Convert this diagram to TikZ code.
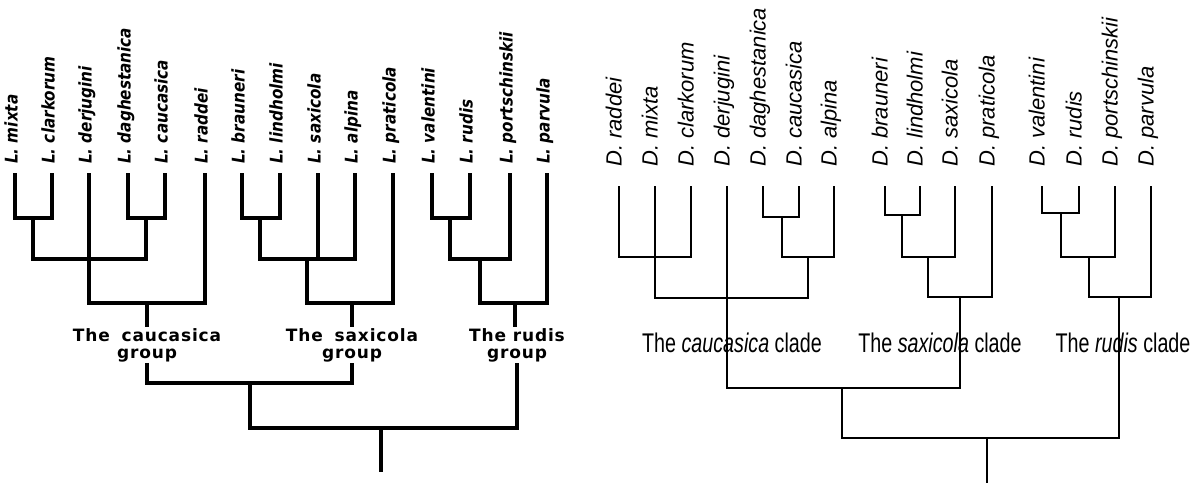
\documentclass[tikz,border=0pt]{standalone}
\usepackage{fontspec}
\setmainfont{Liberation Sans}
\newfontfamily\condfont[FakeStretch=0.73]{Liberation Sans}
\newfontfamily\heavyfont[FakeStretch=0.87]{DejaVu Sans}
\newfontfamily\spacedfont[LetterSpace=5]{DejaVu Sans}

\tikzset{
  treeL/.style={line width=4.5pt, line join=miter},
  treeD/.style={line width=2.6pt, line join=miter},
  tipL/.style={rotate=90, anchor=mid west, inner sep=0pt,
    font=\heavyfont\fontsize{17.5}{18}\selectfont\bfseries\itshape},
  tipD/.style={rotate=90, anchor=mid west, inner sep=0pt,
    font=\fontsize{22}{22}\selectfont\itshape},
  grouplab/.style={align=center, inner sep=1pt,
    font=\spacedfont\fontsize{17}{17}\selectfont\bfseries},
  cladelab/.style={anchor=base, inner sep=0pt,
    font=\condfont\fontsize{27}{27}\selectfont},
}

\begin{document}
\begin{tikzpicture}[x=1pt,y=-1pt]
\useasboundingbox (0,0) rectangle (1194,484);

% Left tree: taxa
\foreach \x/\n/\t in {15/lmix/mixta, 52/lcla/clarkorum, 89/lder/derjugini,
    128/ldag/daghestanica, 165/lcau/caucasica, 205/lrad/raddei,
    242/lbra/brauneri, 280/llin/lindholmi, 318/lsax/saxicola,
    355/lalp/alpina, 393/lpra/praticola, 432/lval/valentini,
    470/lrud/rudis, 510/lpor/portschinskii, 547/lpar/parvula}{
  \coordinate (\n) at (\x,173);
  \node[tipL] (\n-lab) at (\x,164) {L. \t};
}

% Left tree: joins
\coordinate (la1) at (33,218);
\coordinate (la2) at (146,218);
\coordinate (la3) at (89,259);
\coordinate (la4) at (147,303);
\coordinate (lb1) at (260,218);
\coordinate (lb2) at (307,259);
\coordinate (lb3) at (352,303);
\coordinate (lc1) at (450,218);
\coordinate (lc2) at (480,259);
\coordinate (lc3) at (515,303);
\coordinate (lg1) at (250,383);
\coordinate (lg2) at (381,428);
\coordinate (lroot) at (381,472);

% caucasica group
\draw[treeL] (lmix) |- (la1) -| (lcla);
\draw[treeL] (ldag) |- (la2) -| (lcau);
\draw[treeL] (la1) |- (la3) -| (la2);
\draw[treeL] (lder) -- (la3) |- (la4) -| (lrad);

% saxicola group
\draw[treeL] (lbra) |- (lb1) -| (llin);
\draw[treeL] (lb1) |- (lb2) -| (lalp);
\draw[treeL] (lsax) -- (lsax |- lb2);
\draw[treeL] (lb2) |- (lb3) -| (lpra);

% rudis group
\draw[treeL] (lval) |- (lc1) -| (lrud);
\draw[treeL] (lc1) |- (lc2) -| (lpor);
\draw[treeL] (lc2) |- (lc3) -| (lpar);

% group labels
\node[grouplab] (gcau) at (147,345) {The\hspace{5pt} caucasica\\group};
\node[grouplab] (gsax) at (352,345) {The\hspace{5pt} saxicola\\group};
\node[grouplab] (grud) at (517,345) {The rudis\\group};

\draw[treeL] (la4) -- (la4 |- gcau.north);
\draw[treeL] (lb3) -- (lb3 |- gsax.north);
\draw[treeL] (lc3) -- (lc3 |- grud.north);

\draw[treeL] (gcau.south) |- (lg1) -| (gsax.south);
\draw[treeL] (lg1) |- (lg2) -| (grud.south);
\draw[treeL] (lg2) -- (lroot);

% Right tree: taxa
\foreach \x/\n/\t in {619/drad/raddei, 655/dmix/mixta, 691/dcla/clarkorum,
    727/dder/derjugini, 763/ddag/daghestanica, 799/dcau/caucasica,
    834/dalp/alpina, 885/dbra/brauneri, 920/dlin/lindholmi,
    955/dsax/saxicola, 992/dpra/praticola, 1042/dval/valentini,
    1079/drud/rudis, 1115/dpor/portschinskii, 1151/dpar/parvula}{
  \coordinate (\n) at (\x,186);
  \node[tipD] (\n-lab) at (\x,167) {D. \t};
}

% Right tree: joins
\coordinate (dd1) at (655,257);
\coordinate (dd2) at (782,217);
\coordinate (dd3) at (808,257);
\coordinate (dd4) at (727,298);
\coordinate (de1) at (902,215);
\coordinate (de2) at (928,257);
\coordinate (de3) at (960,297);
\coordinate (df1) at (1061,213);
\coordinate (df2) at (1089,257);
\coordinate (df3) at (1119,297);
\coordinate (dg1) at (842,388);
\coordinate (dg2) at (987,438);
\coordinate (droot) at (987,483);

% caucasica clade
\draw[treeD] (drad) |- (dd1) -| (dcla);
\draw[treeD] (dmix) -- (dd1);
\draw[treeD] (ddag) |- (dd2) -| (dcau);
\draw[treeD] (dd2) |- (dd3) -| (dalp);
\draw[treeD] (dd1) |- (dd4) -| (dd3);
\draw[treeD] (dder) -- (dd4);

% saxicola clade
\draw[treeD] (dbra) |- (de1) -| (dlin);
\draw[treeD] (de1) |- (de2) -| (dsax);
\draw[treeD] (de2) |- (de3) -| (dpra);

% rudis clade
\draw[treeD] (dval) |- (df1) -| (drud);
\draw[treeD] (df1) |- (df2) -| (dpor);
\draw[treeD] (df2) |- (df3) -| (dpar);

% clade labels
\node[cladelab] (ccau) at (732,352) {The \textit{caucasica} clade};
\node[cladelab] (csax) at (940,352) {The \textit{saxicola} clade};
\node[cladelab] (crud) at (1123,352) {The \textit{rudis} clade};

\draw[treeD] (dd4) |- (dg1) -| (de3);
\draw[treeD] (dg1) |- (dg2) -| (df3);
\draw[treeD] (dg2) -- (droot);

\end{tikzpicture}
\end{document}
